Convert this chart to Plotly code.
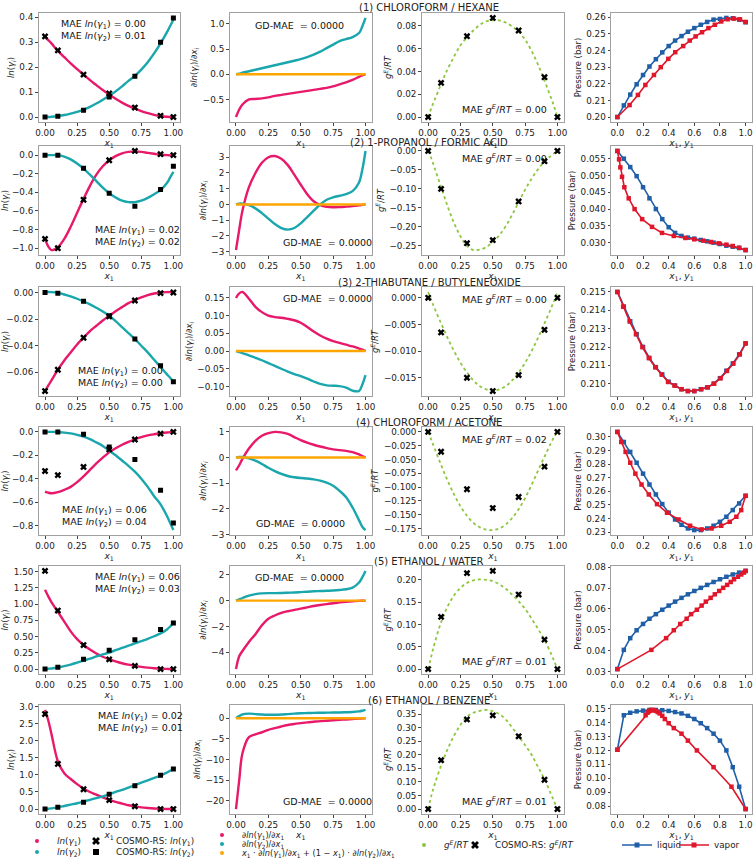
import plotly.graph_objects as go

# ---------------- data ----------------
XG = [0.0, 0.025, 0.05, 0.1, 0.15, 0.2, 0.25, 0.3, 0.35, 0.4, 0.45, 0.5, 0.55, 0.6,
      0.65, 0.7, 0.75, 0.8, 0.85, 0.9, 0.95, 0.975, 1.0]
XC = [0.0, 0.1, 0.3, 0.5, 0.7, 0.9, 1.0]
XL = [0.0, 0.05, 0.1, 0.15, 0.2, 0.25, 0.3, 0.35, 0.4, 0.45, 0.5, 0.55, 0.6, 0.65,
      0.7, 0.75, 0.8, 0.85, 0.9, 0.95, 1.0]
GD_SUM = [0.0, 0.0, 0.0, 0.0, 0.0, 0.0, 0.0, 0.0, 0.0, 0.0, 0.0, 0.0, 0.0, 0.0, 0.0,
          0.0, 0.0, 0.0, 0.0, 0.0, 0.0, 0.0, 0.0]

TITLES = ["(1) CHLOROFORM / HEXANE", "(2) 1-PROPANOL / FORMIC ACID",
          "(3) 2-THIABUTANE / BUTYLENEOXIDE", "(4) CHLOROFORM / ACETONE",
          "(5) ETHANOL / WATER", "(6) ETHANOL / BENZENE"]
MAE_LN1 = ["0.00", "0.02", "0.00", "0.06", "0.06", "0.02"]
MAE_LN2 = ["0.01", "0.02", "0.00", "0.04", "0.03", "0.01"]
MAE_GE = ["0.00", "0.00", "0.00", "0.02", "0.01", "0.01"]
GD_MAE = ["0.0000", "0.0000", "0.0000", "0.0000", "0.0000", "0.0000"]

# system 1
ln1_1 = [0.32, 0.308, 0.295, 0.265, 0.24, 0.215, 0.192, 0.17, 0.148, 0.128, 0.108, 0.09, 0.073, 0.058, 0.045, 0.034, 0.024, 0.016, 0.009, 0.004, 0.001, 0.0003, 0.0]
ln2_1 = [0.0, 0.0, 0.001, 0.004, 0.008, 0.014, 0.021, 0.03, 0.041, 0.054, 0.069, 0.085, 0.103, 0.123, 0.145, 0.165, 0.19, 0.22, 0.255, 0.295, 0.34, 0.365, 0.39]
d1_1 = [-0.85, -0.7, -0.6, -0.5, -0.49, -0.48, -0.46, -0.43, -0.41, -0.39, -0.37, -0.35, -0.33, -0.31, -0.29, -0.27, -0.24, -0.2, -0.16, -0.11, -0.05, -0.02, 0.0]
d2_1 = [0.0, 0.01, 0.03, 0.06, 0.09, 0.12, 0.15, 0.18, 0.21, 0.24, 0.27, 0.3, 0.34, 0.39, 0.45, 0.52, 0.59, 0.66, 0.7, 0.74, 0.82, 0.95, 1.12]
ge_1 = [0.0, 0.008, 0.015, 0.029, 0.042, 0.053, 0.063, 0.07, 0.076, 0.081, 0.084, 0.085, 0.0848, 0.083, 0.0795, 0.075, 0.068, 0.058, 0.046, 0.032, 0.017, 0.009, 0.0]
ce1_1 = [0.323, 0.267, 0.17, 0.095, 0.038, 0.005, 0.0]
ce2_1 = [0.0, 0.003, 0.027, 0.08, 0.163, 0.3, 0.397]
cge_1 = [0.0, 0.03, 0.071, 0.087, 0.076, 0.035, 0.0]
pliq_1 = [0.2, 0.207, 0.2135, 0.2197, 0.2253, 0.2304, 0.2348, 0.2389, 0.2427, 0.246, 0.2487, 0.2513, 0.2535, 0.2555, 0.2572, 0.2586, 0.259, 0.2596, 0.2594, 0.2586, 0.257]
vapx_1 = [0.0, 0.095, 0.16, 0.218, 0.285, 0.338, 0.397, 0.451, 0.513, 0.564, 0.61, 0.66, 0.71, 0.76, 0.81, 0.86, 0.91, 0.956, 1.0]
vapp_1 = [0.2, 0.2072, 0.2133, 0.2193, 0.2253, 0.23, 0.235, 0.239, 0.2427, 0.246, 0.2485, 0.251, 0.2535, 0.2555, 0.2575, 0.2588, 0.2592, 0.2588, 0.2572]

# system 2
ln1_2 = [-0.9, -0.98, -1.02, -0.99, -0.9, -0.77, -0.62, -0.47, -0.33, -0.21, -0.12, -0.055, -0.01, 0.02, 0.035, 0.04, 0.035, 0.025, 0.015, 0.005, 0.0, -0.003, -0.005]
ln2_2 = [0.0, 0.0, 0.0, 0.0, -0.015, -0.045, -0.09, -0.145, -0.21, -0.28, -0.35, -0.41, -0.455, -0.49, -0.505, -0.505, -0.49, -0.46, -0.42, -0.375, -0.3, -0.24, -0.18]
d1_2 = [-2.9, -1.6, -0.4, 1.1, 2.0, 2.65, 3.0, 3.08, 2.9, 2.5, 1.9, 1.25, 0.65, 0.2, -0.05, -0.15, -0.18, -0.17, -0.14, -0.1, -0.06, -0.03, 0.0]
d2_2 = [0.0, 0.05, 0.05, -0.05, -0.25, -0.55, -0.9, -1.25, -1.5, -1.6, -1.5, -1.2, -0.8, -0.4, 0.0, 0.3, 0.45, 0.55, 0.65, 0.85, 1.4, 2.2, 3.4]
ge_2 = [0.0, -0.02, -0.045, -0.095, -0.145, -0.19, -0.225, -0.25, -0.261, -0.26, -0.253, -0.24, -0.222, -0.198, -0.168, -0.135, -0.102, -0.073, -0.048, -0.028, -0.013, -0.006, 0.0]
ce1_2 = [-0.9, -1.0, -0.48, -0.055, 0.045, 0.01, 0.0]
ce2_2 = [0.0, 0.0, -0.14, -0.41, -0.55, -0.37, -0.12]
cge_2 = [0.0, -0.1, -0.243, -0.235, -0.133, -0.027, 0.0]
pliq_2 = [0.0573, 0.055, 0.0525, 0.0498, 0.0465, 0.0432, 0.04, 0.037, 0.0346, 0.0329, 0.032, 0.0315, 0.0312, 0.0308, 0.0304, 0.03, 0.0296, 0.0291, 0.0288, 0.0284, 0.0278]
vapx_2 = [0.0, 0.013, 0.023, 0.036, 0.054, 0.088, 0.134, 0.193, 0.27, 0.348, 0.44, 0.53, 0.6, 0.67, 0.73, 0.79, 0.85, 0.9, 0.95, 1.0]
vapp_2 = [0.0573, 0.0548, 0.0524, 0.0496, 0.0465, 0.0432, 0.04, 0.037, 0.0347, 0.0329, 0.032, 0.0314, 0.031, 0.0306, 0.0302, 0.0298, 0.0294, 0.029, 0.0285, 0.0278]

# system 3
ln1_3 = [-0.074, -0.07, -0.066, -0.058, -0.051, -0.045, -0.039, -0.034, -0.029, -0.025, -0.021, -0.0175, -0.014, -0.011, -0.008, -0.0057, -0.0037, -0.002, -0.0008, 0.0, 0.0003, 0.0003, 0.0003]
ln2_3 = [0.0004, 0.0004, 0.0003, -0.0003, -0.0015, -0.003, -0.0047, -0.0067, -0.0089, -0.0115, -0.0143, -0.0175, -0.0215, -0.026, -0.0305, -0.035, -0.04, -0.045, -0.0505, -0.056, -0.0615, -0.064, -0.067]
d1_3 = [0.15, 0.163, 0.167, 0.148, 0.125, 0.11, 0.1, 0.096, 0.094, 0.091, 0.087, 0.08, 0.068, 0.055, 0.044, 0.035, 0.028, 0.023, 0.018, 0.013, 0.007, 0.004, 0.0]
d2_3 = [0.0, -0.003, -0.006, -0.012, -0.019, -0.026, -0.034, -0.042, -0.05, -0.058, -0.065, -0.071, -0.078, -0.086, -0.093, -0.097, -0.098, -0.099, -0.103, -0.112, -0.113, -0.095, -0.068]
ge_3 = [0.0011, -0.0005, -0.002, -0.0048, -0.0075, -0.01, -0.0122, -0.014, -0.0155, -0.0166, -0.0172, -0.0174, -0.0172, -0.0166, -0.0155, -0.014, -0.0122, -0.01, -0.0075, -0.0048, -0.002, -0.0005, 0.0011]
ce1_3 = [-0.074, -0.058, -0.034, -0.018, -0.006, -0.0005, 0.0]
ce2_3 = [0.0, -0.0005, -0.0065, -0.0175, -0.035, -0.055, -0.067]
cge_3 = [0.0, -0.0065, -0.015, -0.0175, -0.0145, -0.006, 0.0]
pliq_3 = [0.215, 0.2142, 0.2134, 0.2127, 0.212, 0.2114, 0.2109, 0.2105, 0.2101, 0.2099, 0.2097, 0.2096, 0.2096, 0.2097, 0.2098, 0.21, 0.2103, 0.2107, 0.2111, 0.2116, 0.2122]
vapx_3 = [0.0, 0.045, 0.095, 0.145, 0.195, 0.245, 0.295, 0.345, 0.395, 0.445, 0.5, 0.55, 0.6, 0.655, 0.705, 0.755, 0.805, 0.855, 0.905, 0.955, 1.0]
vapp_3 = [0.215, 0.2142, 0.2134, 0.2127, 0.212, 0.2114, 0.2109, 0.2105, 0.2101, 0.2099, 0.2097, 0.2096, 0.2096, 0.2097, 0.2098, 0.21, 0.2103, 0.2107, 0.2111, 0.2116, 0.2122]

# system 4
ln1_4 = [-0.51, -0.52, -0.525, -0.515, -0.495, -0.47, -0.43, -0.38, -0.325, -0.27, -0.22, -0.175, -0.14, -0.11, -0.085, -0.063, -0.045, -0.03, -0.02, -0.012, -0.005, -0.002, 0.0]
ln2_4 = [0.0, 0.0, 0.0, -0.001, -0.006, -0.013, -0.025, -0.04, -0.062, -0.09, -0.12, -0.16, -0.2, -0.245, -0.29, -0.34, -0.4, -0.47, -0.55, -0.62, -0.72, -0.78, -0.84]
d1_4 = [-0.5, -0.3, -0.05, 0.35, 0.65, 0.85, 0.95, 1.0, 0.98, 0.92, 0.8, 0.68, 0.58, 0.5, 0.43, 0.37, 0.32, 0.29, 0.26, 0.21, 0.12, 0.06, 0.0]
d2_4 = [0.0, 0.02, 0.02, -0.03, -0.12, -0.25, -0.4, -0.53, -0.64, -0.72, -0.77, -0.8, -0.82, -0.85, -0.9, -0.98, -1.1, -1.3, -1.55, -1.95, -2.45, -2.7, -2.83]
ge_4 = [0.0, -0.015, -0.03, -0.06, -0.088, -0.113, -0.135, -0.152, -0.165, -0.173, -0.177, -0.178, -0.175, -0.168, -0.156, -0.14, -0.12, -0.096, -0.07, -0.045, -0.02, -0.009, 0.0]
ce1_4 = [-0.335, -0.37, -0.3, -0.15, -0.065, -0.015, 0.0]
ce2_4 = [0.0, 0.0, -0.02, -0.13, -0.235, -0.5, -0.78]
cge_4 = [0.0, -0.036, -0.104, -0.138, -0.118, -0.063, 0.0]
pliq_4 = [0.3037, 0.2963, 0.289, 0.281, 0.273, 0.265, 0.2577, 0.2506, 0.2443, 0.2393, 0.2354, 0.2327, 0.2315, 0.2315, 0.2327, 0.2347, 0.2376, 0.2413, 0.2462, 0.2511, 0.2567]
vapx_4 = [0.0, 0.03, 0.064, 0.1, 0.14, 0.188, 0.245, 0.309, 0.387, 0.477, 0.567, 0.657, 0.735, 0.81, 0.876, 0.928, 0.966, 1.0]
vapp_4 = [0.3037, 0.2963, 0.289, 0.281, 0.273, 0.265, 0.2577, 0.2506, 0.2443, 0.2393, 0.2347, 0.232, 0.2327, 0.2347, 0.2376, 0.2413, 0.2462, 0.2567]

# system 5
ln1_5 = [1.22, 1.12, 1.03, 0.88, 0.73, 0.58, 0.46, 0.37, 0.3, 0.24, 0.19, 0.155, 0.12, 0.09, 0.068, 0.05, 0.035, 0.022, 0.013, 0.007, 0.003, 0.001, 0.0]
ln2_5 = [0.0, 0.005, 0.01, 0.025, 0.045, 0.07, 0.1, 0.13, 0.16, 0.195, 0.225, 0.255, 0.29, 0.325, 0.36, 0.395, 0.43, 0.465, 0.505, 0.55, 0.61, 0.655, 0.71]
d1_5 = [-5.3, -4.3, -3.9, -3.2, -2.6, -1.9, -1.4, -1.15, -0.95, -0.82, -0.72, -0.62, -0.52, -0.42, -0.34, -0.27, -0.2, -0.14, -0.09, -0.05, -0.02, -0.01, 0.0]
d2_5 = [0.0, 0.1, 0.2, 0.38, 0.5, 0.56, 0.58, 0.58, 0.59, 0.61, 0.63, 0.66, 0.69, 0.72, 0.74, 0.76, 0.78, 0.82, 0.88, 1.0, 1.4, 1.8, 2.3]
ge_5 = [0.0, 0.03, 0.058, 0.105, 0.14, 0.165, 0.182, 0.193, 0.199, 0.201, 0.2, 0.197, 0.19, 0.18, 0.167, 0.152, 0.135, 0.113, 0.09, 0.065, 0.035, 0.018, 0.0]
ce1_5 = [1.51, 0.9, 0.37, 0.15, 0.05, 0.0, 0.0]
ce2_5 = [0.0, 0.03, 0.15, 0.29, 0.45, 0.61, 0.71]
cge_5 = [0.0, 0.117, 0.215, 0.22, 0.167, 0.066, 0.0]
pliq_5 = [0.0312, 0.0404, 0.046, 0.0498, 0.0528, 0.0553, 0.0575, 0.0596, 0.0616, 0.0635, 0.0653, 0.067, 0.0686, 0.0701, 0.0715, 0.0729, 0.0742, 0.0754, 0.0765, 0.0774, 0.0782]
vapx_5 = [0.0, 0.265, 0.38, 0.44, 0.49, 0.54, 0.575, 0.62, 0.657, 0.69, 0.727, 0.76, 0.794, 0.825, 0.856, 0.884, 0.91, 0.94, 0.966, 0.987, 1.0]
vapp_5 = [0.0312, 0.0404, 0.046, 0.0498, 0.0528, 0.0553, 0.0575, 0.0596, 0.0616, 0.0635, 0.0653, 0.067, 0.0686, 0.0701, 0.0715, 0.0729, 0.0742, 0.0754, 0.0765, 0.0774, 0.0782]

# system 6
ln1_6 = [2.9, 2.6, 2.2, 1.4, 1.05, 0.88, 0.73, 0.6, 0.5, 0.42, 0.34, 0.27, 0.21, 0.16, 0.11, 0.08, 0.05, 0.03, 0.015, 0.007, 0.002, 0.001, 0.0]
ln2_6 = [0.0, 0.01, 0.02, 0.05, 0.09, 0.13, 0.17, 0.22, 0.27, 0.32, 0.37, 0.43, 0.5, 0.56, 0.63, 0.7, 0.77, 0.84, 0.91, 0.98, 1.07, 1.12, 1.17]
d1_6 = [-22.0, -15.0, -8.5, -4.6, -3.9, -3.4, -2.8, -2.4, -2.0, -1.65, -1.4, -1.2, -1.0, -0.85, -0.7, -0.6, -0.5, -0.4, -0.3, -0.2, -0.1, -0.05, 0.0]
d2_6 = [0.0, 0.5, 0.95, 1.1, 1.0, 0.9, 0.85, 0.85, 0.9, 1.0, 1.1, 1.2, 1.25, 1.3, 1.32, 1.35, 1.38, 1.4, 1.45, 1.5, 1.65, 1.8, 2.0]
ge_6 = [0.0, 0.05, 0.09, 0.16, 0.22, 0.27, 0.31, 0.34, 0.355, 0.362, 0.365, 0.36, 0.35, 0.33, 0.3, 0.268, 0.235, 0.2, 0.155, 0.11, 0.055, 0.028, 0.0]
ce1_6 = [2.78, 1.32, 0.58, 0.26, 0.08, 0.0, 0.0]
ce2_6 = [0.0, 0.05, 0.2, 0.43, 0.68, 0.99, 1.17]
cge_6 = [0.0, 0.18, 0.33, 0.345, 0.268, 0.108, 0.0]
pliq_6 = [0.1205, 0.1452, 0.147, 0.148, 0.1485, 0.149, 0.149, 0.1488, 0.1483, 0.1475, 0.1465, 0.1448, 0.1425, 0.1395, 0.136, 0.132, 0.127, 0.12, 0.108, 0.094, 0.078]
vapx_6 = [0.0, 0.22, 0.235, 0.245, 0.255, 0.265, 0.275, 0.285, 0.3, 0.315, 0.33, 0.35, 0.37, 0.4, 0.44, 0.5, 0.55, 0.62, 0.75, 0.89, 1.0]
vapp_6 = [0.1205, 0.1452, 0.147, 0.148, 0.1485, 0.149, 0.149, 0.1488, 0.1483, 0.1475, 0.1465, 0.1448, 0.1425, 0.1395, 0.136, 0.132, 0.127, 0.12, 0.108, 0.094, 0.078]

LN1 = [ln1_1, ln1_2, ln1_3, ln1_4, ln1_5, ln1_6]
LN2 = [ln2_1, ln2_2, ln2_3, ln2_4, ln2_5, ln2_6]
D1 = [d1_1, d1_2, d1_3, d1_4, d1_5, d1_6]
D2 = [d2_1, d2_2, d2_3, d2_4, d2_5, d2_6]
GE = [ge_1, ge_2, ge_3, ge_4, ge_5, ge_6]
CE1 = [ce1_1, ce1_2, ce1_3, ce1_4, ce1_5, ce1_6]
CE2 = [ce2_1, ce2_2, ce2_3, ce2_4, ce2_5, ce2_6]
CGE = [cge_1, cge_2, cge_3, cge_4, cge_5, cge_6]
PLIQ = [pliq_1, pliq_2, pliq_3, pliq_4, pliq_5, pliq_6]
VAPX = [vapx_1, vapx_2, vapx_3, vapx_4, vapx_5, vapx_6]
VAPP = [vapp_1, vapp_2, vapp_3, vapp_4, vapp_5, vapp_6]

# ---------------- styling ----------------
W, H = 756, 859
PINK = '#E8196B'
TEAL = '#19A6AC'
ORANGE = '#FFA500'
GREEN = '#8DC63F'
BLUE = '#1F5FA8'
RED = '#E0162B'
FONT = 'DejaVu Sans'

COLX = [(38.6, 179.8), (229.5, 372.0), (421.7, 563.9), (611.0, 752.0)]
ROWY = [(13, 122), (146, 255), (287, 396), (427, 535), (566, 674), (705, 814)]
TITLE_Y = [7, 142, 282, 422, 561, 700]

YDT = [[0.1, 0.5, 0.02, 0.01], [0.2, 1, 0.05, 0.005], [0.02, 0.05, 0.005, 0.001],
       [0.2, 1, 0.025, 0.01], [0.25, 2, 0.05, 0.01], [0.5, 5, 0.05, 0.01]]
YFMT = [['.1f', '.1f', '.2f', '.2f'], ['.1f', 'd', '.2f', '.3f'], ['.2f', '.2f', '.3f', '.3f'],
        ['.1f', 'd', '.3f', '.2f'], ['.2f', 'd', '.2f', '.2f'], ['.1f', 'd', '.2f', '.2f']]

# annotation placement (domain coords): (x, y, yanchor)
POS_LN = [(0.46, 0.97, 'top'), (0.70, 0.04, 'bottom'), (0.58, 0.04, 'bottom'),
          (0.47, 0.04, 'bottom'), (0.70, 0.97, 'top'), (0.72, 0.97, 'top')]
POS_GD = [(0.49, 0.95, 'top'), (0.69, 0.05, 'bottom'), (0.69, 0.96, 'top'),
          (0.50, 0.04, 'bottom'), (0.49, 0.96, 'top'), (0.69, 0.05, 'bottom')]
POS_GE = [(0.58, 0.05, 'bottom'), (0.58, 0.96, 'top'), (0.58, 0.96, 'top'),
          (0.58, 0.96, 'top'), (0.58, 0.05, 'bottom'), (0.58, 0.05, 'bottom')]

YTITLES = ['<i>ln</i>(<i>γ</i><sub><i>i</i></sub>)',
           '∂<i>ln</i>(<i>γ</i><sub><i>i</i></sub>)/∂<i>x</i><sub><i>i</i></sub>',
           '<i>g</i><sup><i>E</i></sup>/<i>RT</i>',
           'Pressure (bar)']
XT = '<i>x</i><sub>1</sub>'
XT4 = '<i>x</i><sub>1</sub>, <i>y</i><sub>1</sub>'


def axnames(k):
    return ('x' if k == 1 else f'x{k}'), ('y' if k == 1 else f'y{k}')


def pad(vals, f=0.05):
    lo, hi = min(vals), max(vals)
    d = hi - lo
    return [lo - f * d, hi + f * d]


fig = go.Figure()
layout = dict(width=W, height=H, margin=dict(l=0, r=0, t=0, b=0, autoexpand=False),
              paper_bgcolor='white', plot_bgcolor='white',
              font=dict(family=FONT, size=9, color='#222222'),
              showlegend=True)
annotations = []

base = dict(showline=True, mirror=True, linecolor='#a0a0a0', linewidth=1,
            ticks='outside', ticklen=2.5, tickwidth=1, tickcolor='#444444',
            showgrid=False, zeroline=False, tickfont=dict(size=8.8, family=FONT),
            automargin=False)

line_kw = dict(mode='lines', showlegend=False, line_shape='spline')
cross = dict(symbol='x', size=6, color='black', line=dict(width=0))

for r in range(6):
    for c in range(4):
        k = r * 4 + c + 1
        xa, ya = axnames(k)
        if c == 0:
            fig.add_trace(go.Scatter(x=XG, y=LN1[r], line=dict(color=PINK, width=2.4), xaxis=xa, yaxis=ya, **line_kw))
            fig.add_trace(go.Scatter(x=XG, y=LN2[r], line=dict(color=TEAL, width=2.4), xaxis=xa, yaxis=ya, **line_kw))
            fig.add_trace(go.Scatter(x=XC, y=CE1[r], mode='markers', showlegend=False, marker=cross,
                                     xaxis=xa, yaxis=ya))
            fig.add_trace(go.Scatter(x=XC, y=CE2[r], mode='markers', showlegend=False,
                                     marker=dict(symbol='square', size=5, color='black'),
                                     xaxis=xa, yaxis=ya))
            yr = pad(LN1[r] + LN2[r] + CE1[r] + CE2[r])
        elif c == 1:
            fig.add_trace(go.Scatter(x=XG, y=D1[r], line=dict(color=PINK, width=2.4), xaxis=xa, yaxis=ya, **line_kw))
            fig.add_trace(go.Scatter(x=XG, y=D2[r], line=dict(color=TEAL, width=2.4), xaxis=xa, yaxis=ya, **line_kw))
            fig.add_trace(go.Scatter(x=XG, y=GD_SUM, line=dict(color=ORANGE, width=2.4), xaxis=xa, yaxis=ya, **line_kw))
            yr = pad(D1[r] + D2[r] + GD_SUM)
        elif c == 2:
            fig.add_trace(go.Scatter(x=XG, y=GE[r], line=dict(color=GREEN, width=1.8, dash='dot'), xaxis=xa, yaxis=ya, **line_kw))
            fig.add_trace(go.Scatter(x=XC, y=CGE[r], mode='markers', showlegend=False, marker=cross,
                                     xaxis=xa, yaxis=ya))
            yr = pad(GE[r] + CGE[r])
        else:
            fig.add_trace(go.Scatter(x=XL, y=PLIQ[r], mode='lines+markers', showlegend=False,
                                     line=dict(color=BLUE, width=1.6),
                                     marker=dict(symbol='square', size=4.5, color=BLUE),
                                     xaxis=xa, yaxis=ya))
            fig.add_trace(go.Scatter(x=VAPX[r], y=VAPP[r], mode='lines+markers', showlegend=False,
                                     line=dict(color=RED, width=1.6),
                                     marker=dict(symbol='square', size=4.5, color=RED),
                                     xaxis=xa, yaxis=ya))
            yr = pad(PLIQ[r] + VAPP[r])

        x0, x1 = COLX[c]
        y0, y1 = ROWY[r]
        xkey = 'xaxis' if k == 1 else f'xaxis{k}'
        ykey = 'yaxis' if k == 1 else f'yaxis{k}'
        xd = dict(base)
        xd.update(domain=[x0 / W, x1 / W], anchor=ya, range=[-0.05, 1.05], tick0=0,
                  dtick=0.2 if c == 3 else 0.25, tickformat='.1f' if c == 3 else '.2f',
                  title=dict(text=XT4 if c == 3 else XT, font=dict(size=9, family=FONT), standoff=0))
        yd = dict(base)
        yd.update(domain=[1 - y1 / H, 1 - y0 / H], anchor=xa, range=yr, tick0=0,
                  dtick=YDT[r][c], tickformat=YFMT[r][c],
                  title=dict(text=YTITLES[c], font=dict(size=8.5, family=FONT), standoff=3))
        layout[xkey] = xd
        layout[ykey] = yd

        afont = dict(size=9.5, family=FONT, color='#111111')
        if c == 0:
            px, py, yanc = POS_LN[r]
            txt = (f'MAE <i>ln</i>(<i>γ</i><sub>1</sub>) = {MAE_LN1[r]}<br>'
                   f'MAE <i>ln</i>(<i>γ</i><sub>2</sub>) = {MAE_LN2[r]}')
        elif c == 1:
            px, py, yanc = POS_GD[r]
            txt = f'GD-MAE\u00a0 = {GD_MAE[r]}'
        elif c == 2:
            px, py, yanc = POS_GE[r]
            txt = f'MAE <i>g</i><sup><i>E</i></sup>/<i>RT</i> = {MAE_GE[r]}'
        else:
            txt = None
        if txt:
            annotations.append(dict(text=txt, x=px, y=py, xref=f'{xa} domain', yref=f'{ya} domain',
                                    xanchor='center', yanchor=yanc, showarrow=False, font=afont,
                                    align='left'))

    annotations.append(dict(text=TITLES[r], x=429 / W, y=1 - TITLE_Y[r] / H, xref='paper', yref='paper',
                            xanchor='center', yanchor='middle', showarrow=False,
                            font=dict(size=10, family=FONT, color='#222222')))

# ---------------- legends ----------------
LEG_ITEMS = [
    ('legend', 39, 841, '<i>ln</i>(<i>γ</i><sub>1</sub>)', dict(mode='markers', marker=dict(color=PINK, size=4)), 8.8),
    ('legend2', 98, 841, 'COSMO-RS: <i>ln</i>(<i>γ</i><sub>1</sub>)', dict(mode='markers', marker=dict(symbol='x', color='black', size=7, line=dict(width=0))), 8.8),
    ('legend3', 39, 852, '<i>ln</i>(<i>γ</i><sub>2</sub>)', dict(mode='markers', marker=dict(color=TEAL, size=4)), 8.8),
    ('legend4', 98, 852, 'COSMO-RS: <i>ln</i>(<i>γ</i><sub>2</sub>)', dict(mode='markers', marker=dict(symbol='square', color='black', size=6)), 8.8),
    ('legend5', 224, 835, '∂<i>ln</i>(<i>γ</i><sub>1</sub>)/∂<i>x</i><sub>1</sub>', dict(mode='markers', marker=dict(color=PINK, size=4)), 8.2),
    ('legend6', 224, 844, '∂<i>ln</i>(<i>γ</i><sub>2</sub>)/∂<i>x</i><sub>1</sub>', dict(mode='markers', marker=dict(color=TEAL, size=4)), 8.2),
    ('legend7', 224, 853, '<i>x</i><sub>1</sub> · ∂<i>ln</i>(<i>γ</i><sub>1</sub>)/∂<i>x</i><sub>1</sub> + (1 − <i>x</i><sub>1</sub>) · ∂<i>ln</i>(<i>γ</i><sub>2</sub>)/∂<i>x</i><sub>1</sub>', dict(mode='markers', marker=dict(color=ORANGE, size=4)), 8.2),
    ('legend8', 426, 845, '<i>g</i><sup><i>E</i></sup>/<i>RT</i>', dict(mode='markers', marker=dict(color=GREEN, size=4)), 8.8),
    ('legend9', 477, 845, 'COSMO-RS: <i>g</i><sup><i>E</i></sup>/<i>RT</i>', dict(mode='markers', marker=dict(symbol='x', color='black', size=7, line=dict(width=0))), 8.8),
    ('legend10', 639, 845, 'liquid', dict(mode='lines+markers', line=dict(color=BLUE, width=1.6), marker=dict(symbol='square', color=BLUE, size=5)), 8.8),
    ('legend11', 696, 845, 'vapor', dict(mode='lines+markers', line=dict(color=RED, width=1.6), marker=dict(symbol='square', color=RED, size=5)), 8.8),
]
for name, sx, sy, label, kw, fs in LEG_ITEMS:
    fig.add_trace(go.Scatter(x=[None], y=[None], name=label, legend=name, showlegend=True, **kw))
    layout[name] = dict(x=(sx - 22) / W, y=1 - sy / H, xanchor='left', yanchor='middle',
                        orientation='h', bgcolor='rgba(0,0,0,0)', borderwidth=0,
                        font=dict(size=fs, family=FONT, color='#222222'), itemwidth=30)

layout['annotations'] = annotations
fig.update_layout(**layout)
fig.write_html("out.html",
               config={'displayModeBar': False},
               post_script="document.body.style.margin='0';document.body.style.overflow='hidden';")
